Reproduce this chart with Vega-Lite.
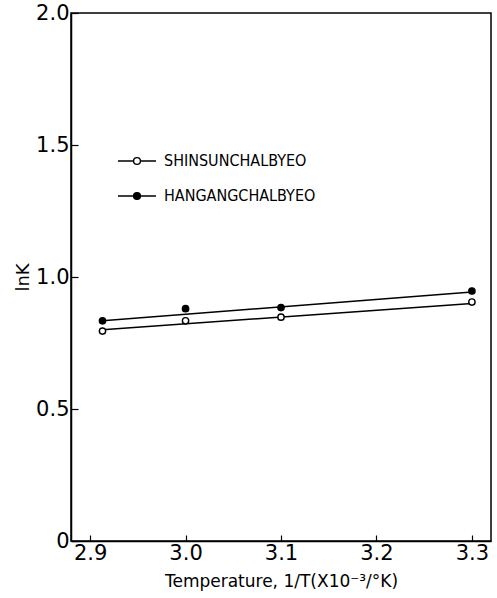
{
  "$schema": "https://vega.github.io/schema/vega-lite/v6.json",
  "width": 420,
  "height": 528,
  "autosize": "none",
  "padding": {"left": 71, "top": 13, "right": 6, "bottom": 57},
  "background": "white",
  "config": {
    "view": {"stroke": "black", "strokeWidth": 1.5},
    "axis": {
      "domainColor": "black",
      "domainWidth": 1.5,
      "tickColor": "black",
      "tickWidth": 1.2,
      "grid": false,
      "labelColor": "black",
      "titleColor": "black",
      "labelFont": "DejaVu Sans",
      "titleFont": "DejaVu Sans",
      "labelFontSize": 21,
      "titleFontSize": 17,
      "titleFontWeight": "normal"
    }
  },
  "datasets": {
    "points": [
      {"invT": 2.913, "lnK": 0.795, "series": "SHINSUNCHALBYEO"},
      {"invT": 3.0, "lnK": 0.834, "series": "SHINSUNCHALBYEO"},
      {"invT": 3.1, "lnK": 0.848, "series": "SHINSUNCHALBYEO"},
      {"invT": 3.3, "lnK": 0.905, "series": "SHINSUNCHALBYEO"},
      {"invT": 2.913, "lnK": 0.834, "series": "HANGANGCHALBYEO"},
      {"invT": 3.0, "lnK": 0.88, "series": "HANGANGCHALBYEO"},
      {"invT": 3.1, "lnK": 0.884, "series": "HANGANGCHALBYEO"},
      {"invT": 3.3, "lnK": 0.947, "series": "HANGANGCHALBYEO"}
    ],
    "fits": [
      {"invT": 2.913, "lnK": 0.8, "series": "SHINSUNCHALBYEO"},
      {"invT": 3.3, "lnK": 0.9, "series": "SHINSUNCHALBYEO"},
      {"invT": 2.913, "lnK": 0.834, "series": "HANGANGCHALBYEO"},
      {"invT": 3.3, "lnK": 0.943, "series": "HANGANGCHALBYEO"}
    ]
  },
  "layer": [
    {
      "data": {"name": "fits"},
      "mark": {"type": "line", "color": "black", "strokeWidth": 1.5},
      "encoding": {
        "x": {
          "field": "invT", "type": "quantitative",
          "scale": {"domain": [2.88, 3.32], "nice": false, "zero": false},
          "axis": {
            "values": [2.9, 3.0, 3.1, 3.2, 3.3],
            "format": ".1f",
            "tickSize": -6,
            "labelPadding": 7,
            "title": "Temperature, 1/T(X10⁻³/°K)",
            "titlePadding": 10
          }
        },
        "y": {
          "field": "lnK", "type": "quantitative",
          "scale": {"domain": [0, 2], "nice": false},
          "axis": {
            "values": [0, 0.5, 1.0, 1.5, 2.0],
            "labelExpr": "datum.value == 0 ? '0' : format(datum.value, '.1f')",
            "tickSize": -7,
            "labelPadding": 9,
            "title": "lnK",
            "titleFontSize": 18,
            "titlePadding": 3
          }
        },
        "detail": {"field": "series"}
      }
    },
    {
      "data": {"name": "points"},
      "mark": {"type": "point", "filled": true, "stroke": "black", "strokeWidth": 1.4, "size": 40, "opacity": 1},
      "encoding": {
        "x": {"field": "invT", "type": "quantitative"},
        "y": {"field": "lnK", "type": "quantitative"},
        "fill": {
          "field": "series", "type": "nominal",
          "scale": {"domain": ["SHINSUNCHALBYEO", "HANGANGCHALBYEO"], "range": ["white", "black"]},
          "legend": {
            "orient": "none",
            "legendX": 46,
            "legendY": 128,
            "title": null,
            "padding": 0,
            "symbolType": "M-1,0H-0.18M0.18,0H1M-0.18,0A0.18,0.18 0 1,0 0.18,0A0.18,0.18 0 1,0 -0.18,0Z",
            "symbolSize": 1444,
            "symbolStrokeColor": "black",
            "symbolStrokeWidth": 1.4,
            "symbolOpacity": 1,
            "labelFont": "Liberation Sans Narrow, DejaVu Sans Condensed, sans-serif",
            "labelFontSize": 16,
            "labelColor": "black",
            "labelLimit": 0,
            "labelOffset": 7,
            "rowPadding": 7
          }
        }
      }
    }
  ]
}
